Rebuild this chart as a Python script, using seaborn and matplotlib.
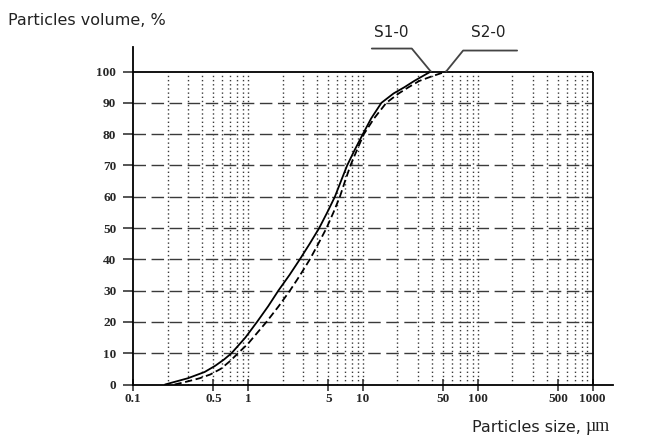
import numpy as np
import pandas as pd
import matplotlib
matplotlib.use("Agg")
import matplotlib.pyplot as plt
import seaborn as sns

# particle size distribution (size in um, cumulative volume in %)
s1_size = [0.19, 0.3, 0.42, 0.52, 0.62, 0.72, 0.95, 1.2, 1.5, 1.84, 2.3, 2.83, 3.45,
           4.17, 4.9, 5.71, 6.45, 7.3, 8.5, 10.0, 11.8, 14.5, 18.5, 23.0, 28.0, 33.0, 39.0]
s1_vol = [0, 2, 4, 6, 8, 10, 15, 20, 25, 30, 35, 40, 45,
          50, 55, 60, 65, 70, 75, 80, 85, 90, 93, 95, 97, 98.5, 100]
s2_size = [0.23, 0.3, 0.38, 0.47, 0.58, 0.7, 0.82, 1.0, 1.45, 1.85, 2.32, 2.85, 3.46,
           4.1, 4.83, 5.55, 6.31, 7.0, 7.8, 8.9, 10.2, 12.5, 16.0, 20.5, 25.0, 31.0,
           40.0, 53.0]
s2_vol = [0, 1, 2, 3.2, 5, 7.5, 10, 13, 20, 25, 30, 35, 40,
          45, 50, 55, 60, 65, 70, 75, 80, 85, 90, 93, 95, 97,
          98.5, 100]
series_names = ["S1-0", "S2-0"]

y_ticks = list(range(0, 101, 10))
x_ticks = [0.1, 0.5, 1, 5, 10, 50, 100, 500, 1000]
x_tick_labels = ["0.1", "0.5", "1", "5", "10", "50", "100", "500", "1000"]

sns.set_style("white")
fig = plt.figure(figsize=(6.49, 4.48), dpi=100)
ax = fig.add_axes([0.2049, 0.1417, 0.7396, 0.7545])

df = pd.concat([
    pd.DataFrame({"size": s1_size, "vol": s1_vol, "sample": series_names[0]}),
    pd.DataFrame({"size": s2_size, "vol": s2_vol, "sample": series_names[1]}),
])
sns.lineplot(data=df, x="size", y="vol", style="sample", color="black",
             dashes={"S1-0": "", "S2-0": (4, 2)}, linewidth=1.3,
             legend=False, ax=ax, sort=False)

ax.set_xscale("log")
ax.set_xlim(0.1, 1500)
ax.set_ylim(0, 108)

# grid: dotted verticals on log minors, dashed horizontals
grid_c = "#3a3a3a"
vx = [m * 10.0 ** e for e in range(-1, 3) for m in range(2, 11)]
vx = [v for v in vx if v < 1000]
ax.vlines(vx, 0, 100, colors=grid_c, linestyles=(0, (1, 2)), linewidth=1.0, zorder=1)
ax.hlines(y_ticks[1:-1], 0.1, 1000, colors=grid_c, linestyles=(0, (9, 4)),
          linewidth=1.0, zorder=1)
ax.hlines(100, 0.1, 1000, colors="black", linewidth=1.3, zorder=2)
ax.vlines(1000, 0, 100, colors="black", linewidth=1.3, zorder=2)

for side in ["top", "right"]:
    ax.spines[side].set_visible(False)
for side in ["left", "bottom"]:
    ax.spines[side].set_linewidth(1.3)
    ax.spines[side].set_color("black")

tick_font = dict(family="Liberation Serif", weight="bold", size=9.5)
ax.set_yticks(y_ticks)
ax.set_yticklabels([str(t) for t in y_ticks], **tick_font)
ax.set_xticks(x_ticks)
ax.set_xticklabels(x_tick_labels, **tick_font)
ax.minorticks_off()
ax.tick_params(axis="y", direction="out", length=7, width=1.1, pad=5, left=True)
ax.tick_params(axis="x", direction="inout", length=8, width=1.1, pad=2, bottom=True)
ax.set_xlabel("")
ax.set_ylabel("")

# leader lines from the labels down to the curve ends
lc = "#444444"
for name, tip, elbow, end, lab in [
    ("S1-0", (s1_size[-1], 100), (-19, 23), (-59, 23), (-40, 39)),
    ("S2-0", (s2_size[-1], 100), (17, 21), (71, 21), (42, 39)),
]:
    ex, ey = ax.transData.transform(tip)
    ax.plot([ex, ex + elbow[0], ex + end[0]], [ey, ey + elbow[1], ey + end[1]],
            color=lc, lw=1.3, transform=None, clip_on=False)
    ax.text(ex + lab[0], ey + lab[1], name, transform=None, ha="center",
            va="center", fontsize=11, family="DejaVu Sans", color="#222222")

fig.text(0.013, 0.955, "Particles volume, %", fontsize=11.5, family="DejaVu Sans",
         color="#222222", ha="left", va="center")
t1 = fig.text(0.727, 0.035, "Particles size, ", fontsize=11.5, family="DejaVu Sans",
              color="#222222", ha="left", va="baseline")
ax.annotate("µm", xy=(1, 0), xycoords=t1, va="bottom", ha="left",
            fontsize=13, family="Liberation Serif", color="#222222")

fig.savefig("out.png", dpi=100)
